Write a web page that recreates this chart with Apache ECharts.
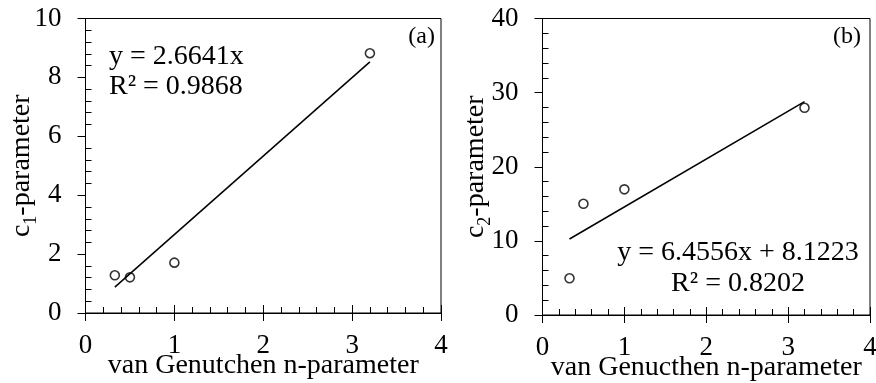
<!DOCTYPE html>
<html>
<head>
<meta charset="utf-8">
<script src="https://cdn.jsdelivr.net/npm/echarts@6/dist/echarts.min.js"></script>
<style>
  html, body { margin: 0; padding: 0; background: #fff; }
  #chart { width: 876px; height: 383px; }
</style>
</head>
<body>
<div id="chart"></div>
<script>
// van Genuchten n vs. fitted c1 / c2 parameters
const nValues = [0.33, 0.5, 1.0, 3.2];
const c1Values = [1.28, 1.21, 1.71, 8.82];
const c2Values = [4.95, 15.0, 16.95, 27.95];

// Linear fits reported on each panel
const fitSlopes = [2.6641, 6.4556];
const fitIntercepts = [0, 8.1223];
const fitR2 = ['0.9868', '0.8202'];

// Axis tick values
const xTicks = [0, 1, 2, 3, 4];
const c1Ticks = [0, 2, 4, 6, 8, 10];
const c2Ticks = [0, 10, 20, 30, 40];

const panelLabels = ['(a)', '(b)'];
const xTitles = ['van Genutchen n-parameter', 'van Genucthen n-parameter'];
const yTitleSubs = ['1', '2'];

const FONT = '"Liberation Serif", "Times New Roman", serif';
const BLACK = '#000';

const panelBoxes = [
  { left: 85.5, top: 18.5, width: 355.5, height: 294.5 },
  { left: 542.5, top: 18.5, width: 327.5, height: 296.5 }
];

function fitLine(i) {
  const x0 = Math.min(...nValues), x1 = Math.max(...nValues);
  return [x0, x1].map(x => [x, fitSlopes[i] * x + fitIntercepts[i]]);
}

function fitText(i) {
  const b = fitIntercepts[i];
  const eq = 'y = ' + fitSlopes[i] + 'x' + (b ? ' + ' + b : '');
  return [eq, 'R\u00b2 = ' + fitR2[i]];
}

function range(ticks) {
  return { min: ticks[0], max: ticks[ticks.length - 1], interval: ticks[1] - ticks[0] };
}

const tickLine = { color: BLACK, width: 1 };

// Labelled x axis with outward major ticks
function xMain(g) {
  return Object.assign({
    type: 'value', gridIndex: g, position: 'bottom',
    axisLine: { show: true, onZero: false, lineStyle: { color: BLACK, width: 1 } },
    axisTick: { show: true, inside: false, length: 8, lineStyle: tickLine },
    minorTick: { show: false },
    splitLine: { show: false },
    axisLabel: { show: true, margin: 19, color: BLACK, fontFamily: FONT, fontSize: 27 },
    name: xTitles[g], nameLocation: 'middle', nameGap: 39, nameMoveOverlap: false,
    nameTextStyle: { color: BLACK, fontFamily: FONT, fontSize: 28 }
  }, range(xTicks));
}

// Overlay x axis: inward major and minor ticks
function xInner(g) {
  return Object.assign({
    type: 'value', gridIndex: g + 2, position: 'bottom',
    axisLine: { show: false, onZero: false },
    axisTick: { show: true, inside: true, length: 8, lineStyle: tickLine },
    minorTick: { show: true, splitNumber: 5, length: 6, lineStyle: tickLine },
    splitLine: { show: false },
    axisLabel: { show: false }
  }, range(xTicks));
}

// Labelled y axis with outward major ticks and subscripted title
function yMain(g, ticks, nameGap) {
  return Object.assign({
    type: 'value', gridIndex: g, position: 'left',
    axisLine: { show: true, onZero: false, lineStyle: { color: BLACK, width: 1 } },
    axisTick: { show: true, inside: false, length: 8, lineStyle: tickLine },
    minorTick: { show: false },
    splitLine: { show: false },
    axisLabel: { show: true, margin: 24, color: BLACK, fontFamily: FONT, fontSize: 27 },
    name: '{t|c}{s|' + yTitleSubs[g] + '}{t|-parameter}',
    nameLocation: 'middle', nameRotate: 90, nameGap: nameGap, nameMoveOverlap: false,
    nameTextStyle: {
      color: BLACK, fontFamily: FONT, fontSize: 28,
      rich: {
        t: { fontFamily: FONT, fontSize: 28, color: BLACK, lineHeight: 28 },
        s: { fontFamily: FONT, fontSize: 18, color: BLACK, lineHeight: 38, verticalAlign: 'bottom' }
      }
    }
  }, range(ticks));
}

// Overlay y axis: inward minor ticks only
function yInner(g, ticks) {
  return Object.assign({
    type: 'value', gridIndex: g + 2, position: 'left',
    axisLine: { show: false, onZero: false },
    axisTick: { show: true, inside: true, length: 0, lineStyle: tickLine },
    minorTick: { show: true, splitNumber: 5, length: 6, lineStyle: tickLine },
    splitLine: { show: false },
    axisLabel: { show: false }
  }, range(ticks));
}

function panelSeries(g, yValues) {
  return [
    {
      type: 'line', xAxisIndex: g, yAxisIndex: g,
      data: fitLine(g), symbol: 'none', silent: true,
      lineStyle: { color: BLACK, width: 1.5 }, z: 2
    },
    {
      type: 'scatter', xAxisIndex: g, yAxisIndex: g,
      data: nValues.map((x, i) => [x, yValues[i]]),
      symbol: 'circle', symbolSize: 9,
      itemStyle: { color: 'rgba(0,0,0,0)', borderColor: BLACK, borderWidth: 1.6 }, z: 3
    }
  ];
}

const textStyle = (extra) => Object.assign({ fill: BLACK, font: '28px ' + FONT }, extra);
const eqA = fitText(0), eqB = fitText(1);

const gridBase = { containLabel: false, outerBoundsMode: 'none' };

const option = {
  backgroundColor: '#fff',
  animation: false,
  grid: [
    ...panelBoxes.map(b => Object.assign({ show: true, borderColor: BLACK, borderWidth: 1, backgroundColor: 'transparent' }, gridBase, b)),
    ...panelBoxes.map(b => Object.assign({ show: false }, gridBase, b))
  ],
  xAxis: [xMain(0), xMain(1), xInner(0), xInner(1)],
  yAxis: [yMain(0, c1Ticks, 45), yMain(1, c2Ticks, 48), yInner(0, c1Ticks), yInner(1, c2Ticks)],
  series: [...panelSeries(0, c1Values), ...panelSeries(1, c2Values)],
  graphic: [
    { type: 'text', left: 109, top: 43, style: textStyle({ text: eqA[0] }) },
    { type: 'text', left: 109, top: 73, style: textStyle({ text: eqA[1] }) },
    { type: 'text', x: 738, y: 253, style: textStyle({ text: eqB[0], textAlign: 'center', textVerticalAlign: 'middle' }) },
    { type: 'text', x: 738, y: 284, style: textStyle({ text: eqB[1], textAlign: 'center', textVerticalAlign: 'middle' }) },
    { type: 'text', x: 435, y: 37, style: textStyle({ text: panelLabels[0], font: '24px ' + FONT, textAlign: 'right', textVerticalAlign: 'middle' }) },
    { type: 'text', x: 861, y: 37, style: textStyle({ text: panelLabels[1], font: '24px ' + FONT, textAlign: 'right', textVerticalAlign: 'middle' }) }
  ]
};

const chart = echarts.init(document.getElementById('chart'), null, { renderer: 'canvas' });
chart.setOption(option);
</script>
</body>
</html>
